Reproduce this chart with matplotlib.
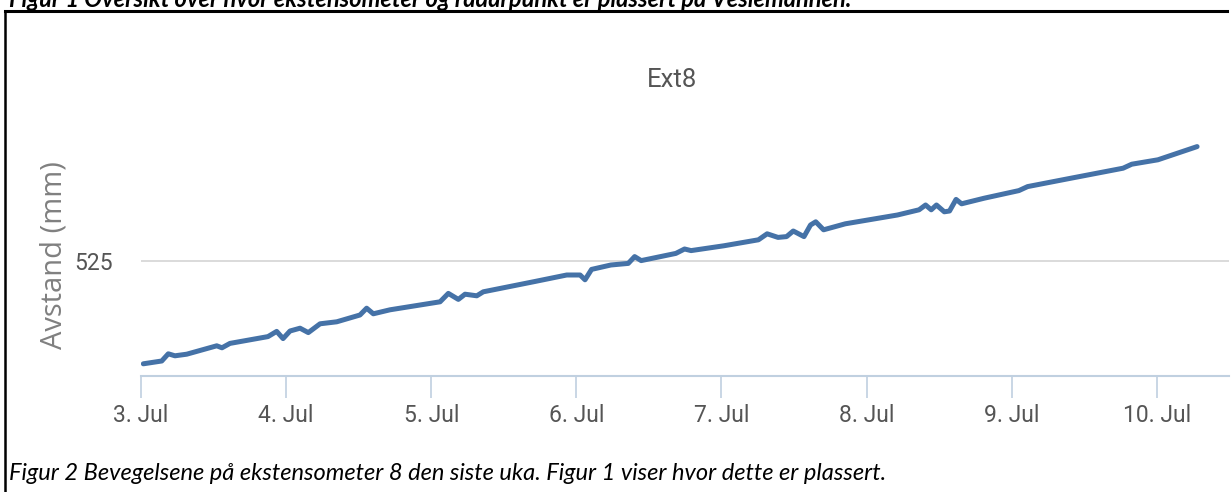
import numpy as np
import matplotlib
matplotlib.use("Agg")
import matplotlib.pyplot as plt
from matplotlib.lines import Line2D

# days since 3. Jul 00:00 and extensometer distance (mm)
days = [0.016, 0.143, 0.188, 0.234, 0.315, 0.522, 0.558, 0.613, 0.875, 0.935,
        0.979, 1.027, 1.096, 1.153, 1.234, 1.349, 1.509, 1.555, 1.601, 1.716,
        2.061, 2.118, 2.187, 2.233, 2.314, 2.359, 2.704, 2.934, 3.026, 3.060,
        3.105, 3.238, 3.358, 3.402, 3.447, 3.686, 3.746, 3.791, 4.016, 4.255,
        4.315, 4.390, 4.449, 4.495, 4.569, 4.614, 4.650, 4.704, 4.764, 4.854,
        5.213, 5.362, 5.407, 5.446, 5.482, 5.536, 5.572, 5.617, 5.655, 5.811,
        6.050, 6.110, 6.409, 6.768, 6.828, 7.008, 7.278]
avstand = [522.43, 522.50, 522.68, 522.63, 522.67, 522.88, 522.83, 522.94, 523.11, 523.24,
           523.06, 523.25, 523.32, 523.21, 523.43, 523.48, 523.65, 523.82, 523.68, 523.78,
           523.98, 524.19, 524.04, 524.17, 524.13, 524.23, 524.48, 524.65, 524.65, 524.53,
           524.79, 524.90, 524.94, 525.11, 525.01, 525.19, 525.30, 525.26, 525.38, 525.53,
           525.68, 525.59, 525.61, 525.75, 525.61, 525.90, 525.98, 525.78, 525.84, 525.93,
           526.15, 526.28, 526.40, 526.28, 526.40, 526.23, 526.25, 526.54, 526.43, 526.57,
           526.76, 526.86, 527.07, 527.32, 527.42, 527.53, 527.86]
tick_days = [0, 1, 2, 3, 4, 5, 6, 7]
tick_labels = ["3. Jul", "4. Jul", "5. Jul", "6. Jul", "7. Jul", "8. Jul", "9. Jul", "10. Jul"]
y_ticks = [525]

NARROW = ["Roboto", "DejaVu Sans"]
LINE = "#4572a7"; AXC = "#c0d0e0"; TXT = "#555555"

fig = plt.figure(figsize=(12.31, 4.92), dpi=100)
ax = fig.add_axes([141/1231, 116/492, 1088/1231, 261/492])
ax.plot(days, avstand, color=LINE, lw=3.6, solid_joinstyle="round", solid_capstyle="round")
ax.set_xlim(0, 7.498)
ax.set_ylim(522.125, 528.65)
ax.set_xticks(tick_days)
ax.set_xticklabels(tick_labels, family=NARROW, fontsize=16.5, color=TXT)
ax.set_yticks(y_ticks)
ax.set_yticklabels([str(v) for v in y_ticks], family=NARROW, fontsize=16.5, color=TXT)
ax.grid(axis="y", color="#d8d8d8", lw=1.3)
ax.set_axisbelow(True)
for s in ("top", "right", "left"):
    ax.spines[s].set_visible(False)
ax.spines["bottom"].set_color(AXC)
ax.spines["bottom"].set_linewidth(1.5)
ax.tick_params(axis="x", length=16, width=1.2, color=AXC, pad=4)
ax.tick_params(axis="y", length=0, pad=20)
ax.set_ylabel("Avstand (mm)", family="Open Sans", fontsize=21, color="#808080")
ax.yaxis.set_label_coords(-72/1088, (377-256)/261)
ax.set_title("Ext8", family=NARROW, fontsize=18.5, color=TXT, pad=0, y=1.0)
ax.title.set_position((672/1231, (492-80)/492))
ax.title.set_transform(fig.transFigure)
ax.title.set_va("center")

# document frame and captions around the screenshot
fig.add_artist(Line2D([5/1231, 1227/1231], [1 - 11/492] * 2, color="black", lw=2.2))
fig.add_artist(Line2D([5/1231, 5/1231], [0, 1 - 11/492], color="black", lw=1.8))
fig.text(9/1231, 1 - 7/492, "Figur 1 Oversikt over hvor ekstensometer og radarpunkt er plassert på Veslemannen.",
         family="Lato", style="italic", fontweight="bold", fontsize=17, va="baseline")
fig.text(9/1231, 1 - 473/492, "Figur 2 Bevegelsene på ekstensometer 8 den siste uka. Figur 1 viser hvor dette er plassert.",
         family="Lato", style="italic", fontsize=17, va="center")

fig.savefig("out.png", dpi=100, facecolor="white")
